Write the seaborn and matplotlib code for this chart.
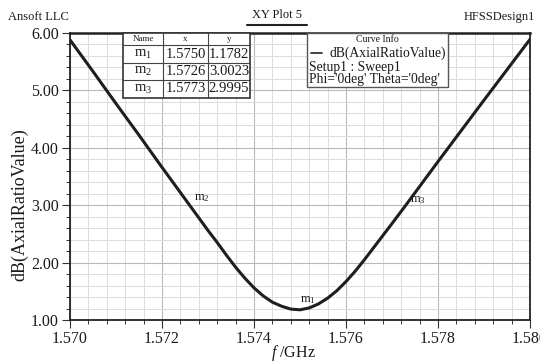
import numpy as np
import pandas as pd
import matplotlib
matplotlib.use("Agg")
import matplotlib.pyplot as plt
import seaborn as sns
from matplotlib.patches import Rectangle
from matplotlib.lines import Line2D
from matplotlib.ticker import MultipleLocator

# ---- data ----
freq_ghz = [1.5700, 1.5705, 1.5710, 1.5715, 1.5720, 1.5726, 1.5730, 1.5732,
            1.5734, 1.5736, 1.5738, 1.5740, 1.5742, 1.5744, 1.5746, 1.5748,
            1.5750, 1.5752, 1.5754, 1.5756, 1.5758, 1.5760, 1.5762, 1.5764,
            1.5766, 1.5768, 1.5770, 1.5773, 1.5780, 1.5790, 1.5800]
axial_ratio_db = [5.88, 5.33, 4.77, 4.22, 3.66, 3.00, 2.56, 2.35,
                  2.13, 1.92, 1.73, 1.56, 1.42, 1.31, 1.24, 1.19,
                  1.178, 1.21, 1.28, 1.38, 1.51, 1.67, 1.85, 2.05,
                  2.26, 2.47, 2.68, 3.00, 3.76, 4.83, 5.89]
marker_names = ["m$_1$", "m$_2$", "m$_3$"]
marker_x = [1.5750, 1.5726, 1.5773]
marker_y = [1.1782, 3.0023, 2.9995]
x_ticks = [1.570, 1.572, 1.574, 1.576, 1.578, 1.580]
y_ticks = [1.00, 2.00, 3.00, 4.00, 5.00, 6.00]

df = pd.DataFrame({"f": freq_ghz, "ar": axial_ratio_db})

sns.set_theme(style="white")
plt.rcParams["font.family"] = ["Liberation Serif", "DejaVu Serif"]
plt.rcParams["mathtext.fontset"] = "custom"
plt.rcParams["mathtext.rm"] = "Liberation Serif"
plt.rcParams["mathtext.it"] = "Liberation Serif:italic"

W, H = 540, 362
fig = plt.figure(figsize=(W / 100, H / 100), dpi=100)
L, R, T, B = 70, 530, 33, 320
ax = fig.add_axes([L / W, 1 - B / H, (R - L) / W, (B - T) / H])

def P(x, y):
    return (x / W, 1 - y / H)

sns.lineplot(data=df, x="f", y="ar", ax=ax, color="#1e1e1e", linewidth=2.2,
             legend=False)

ax.set_xlim(1.570, 1.580)
ax.set_ylim(1.0, 6.0)
ax.set_xticks(x_ticks)
ax.set_xticklabels([f"{v:.3f}" for v in x_ticks])
ax.set_yticks(y_ticks)
ax.set_yticklabels([f"{v:.2f}" for v in y_ticks])
ax.xaxis.set_minor_locator(MultipleLocator(0.0004))
ax.yaxis.set_minor_locator(MultipleLocator(0.2))
ax.grid(which="minor", color="#dcdcdc", linewidth=0.7)
ax.grid(which="major", color="#b8b8b8", linewidth=0.8)
ax.set_axisbelow(True)
ax.tick_params(axis="both", which="major", direction="out", length=6,
               width=0.8, color="#333333", labelsize=11.5, pad=2,
               bottom=True, left=True, labelcolor="#1a1a1a")
ax.tick_params(axis="both", which="minor", direction="out", length=3,
               width=0.7, color="#333333", bottom=True, left=True)
for side in ["left", "bottom", "top", "right"]:
    ax.spines[side].set_color("#222222")
    ax.spines[side].set_linewidth(1.3)
ax.spines["top"].set_linewidth(1.8)
ax.set_xlabel("")
ax.set_ylabel("")

# axis labels
fig.text(*P(20, 205), "dB(AxialRatioValue)", rotation=90, ha="center",
         va="center", fontsize=13, color="#1a1a1a")
fig.text(*P(293, 353), "$f$ /GHz", ha="center", va="center", fontsize=11.5,
         color="#1a1a1a")

# header texts
fig.text(*P(8, 17), "Ansoft LLC", ha="left", va="center", fontsize=9,
         color="#1a1a1a")
fig.text(*P(277, 15), "XY Plot 5", ha="center", va="center", fontsize=9,
         color="#1a1a1a")
fig.add_artist(Line2D([247 / W, 307 / W], [1 - 25 / H, 1 - 25 / H],
                      transform=fig.transFigure, color="#222222", lw=1.5))
fig.text(*P(535, 17), "HFSSDesign1", ha="right", va="center", fontsize=9,
         color="#1a1a1a")

# marker labels on curve
label_off = [(0, 3), (3, 5), (3, 4)]
for name, mx, my, (dx, dy) in zip(marker_names, marker_x, marker_y, label_off):
    ax.annotate(name, (mx, my), xytext=(dx, dy),
                textcoords="offset points", fontsize=9, color="#1a1a1a",
                ha="left", va="center" if name != "m$_1$" else "bottom")

# marker table
tx0, tx1, tx2, tx3 = 123, 163, 208, 250
ty = [33, 45, 63, 80, 98]
fig.add_artist(Rectangle(P(tx0, ty[-1]), (tx3 - tx0) / W, (ty[-1] - ty[0]) / H,
                         transform=fig.transFigure, facecolor="white",
                         edgecolor="#333333", lw=1.2, zorder=5))
for yy in ty[1:-1]:
    fig.add_artist(Line2D([tx0 / W, tx3 / W], [1 - yy / H] * 2,
                          transform=fig.transFigure, color="#444444", lw=0.8,
                          zorder=6))
for xx in (tx1, tx2):
    fig.add_artist(Line2D([xx / W] * 2, [1 - ty[0] / H, 1 - ty[-1] / H],
                          transform=fig.transFigure, color="#444444", lw=0.8,
                          zorder=6))
for txt, cx in zip(["Name", "x", "y"], [(tx0 + tx1) / 2, (tx1 + tx2) / 2,
                                        (tx2 + tx3) / 2]):
    fig.text(*P(cx, (ty[0] + ty[1]) / 2), txt, ha="center", va="center",
             fontsize=6.5, color="#1a1a1a", zorder=7)
for i, (name, mx, my) in enumerate(zip(marker_names, marker_x, marker_y)):
    cy = (ty[i + 1] + ty[i + 2]) / 2
    fig.text(*P((tx0 + tx1) / 2, cy), name, ha="center", va="center",
             fontsize=10.5, color="#1a1a1a", zorder=7)
    fig.text(*P((tx1 + tx2) / 2, cy), f"{mx:.4f}", ha="center", va="center",
             fontsize=10.5, color="#1a1a1a", zorder=7)
    fig.text(*P((tx2 + tx3) / 2, cy), f"{my:.4f}", ha="center", va="center",
             fontsize=10.5, color="#1a1a1a", zorder=7)

# curve info box
cx0, cx1, cy0, cy1 = 307, 448, 33, 87
fig.add_artist(Rectangle(P(cx0, cy1), (cx1 - cx0) / W, (cy1 - cy0) / H,
                         transform=fig.transFigure, facecolor="white",
                         edgecolor="#555555", lw=1.0, zorder=5))
fig.text(*P(377, 40), "Curve Info", ha="center", va="center", fontsize=7,
         color="#1a1a1a", zorder=7)
fig.add_artist(Line2D([311 / W, 322 / W], [1 - 53 / H] * 2,
                      transform=fig.transFigure, color="#222222", lw=1.2,
                      zorder=7))
fig.text(*P(330, 53), "dB(AxialRatioValue)", ha="left", va="center",
         fontsize=9.8, color="#1a1a1a", zorder=7)
fig.text(*P(309, 67), "Setup1 : Sweep1", ha="left", va="center",
         fontsize=9.8, color="#1a1a1a", zorder=7)
fig.text(*P(309, 80), "Phi='0deg' Theta='0deg'", ha="left", va="center",
         fontsize=9.8, color="#1a1a1a", zorder=7)

fig.savefig("out.png", dpi=100, facecolor="white")
